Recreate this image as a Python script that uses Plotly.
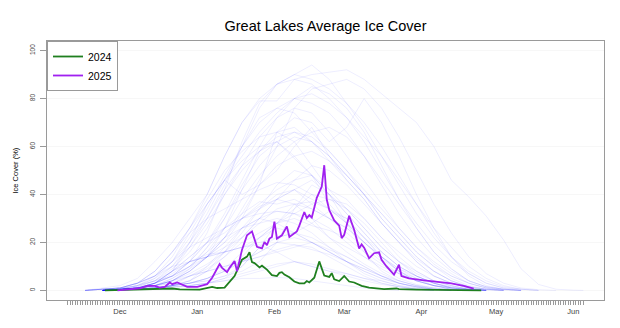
import pandas as pd
import plotly.graph_objects as go

# ---------------- data ----------------
SEASON_START = "2024-11-10"   # day 0 of the season axis
SEASON_END_DAY = 207          # last day shown (about Jun 5)

# 2024 season (winter 2023-24): day of season, ice cover %
days_2024 = [15, 21, 33, 42, 45, 53, 58, 60, 63, 65, 67, 70, 72, 73, 74, 75, 77, 78, 80, 82,
             84, 85, 86, 87, 89, 91, 93, 95, 96, 97, 99, 101, 103, 105, 106, 107, 109, 111,
             113, 115, 118, 121, 127, 132, 133, 140, 158, 166]
ice_2024 = [0, 0.2, 0.4, 0.8, 0.4, 0.3, 1.5, 1.0, 1.2, 3.7, 6.0, 12.8, 14.1, 15.9, 11.8, 11.4,
            9.6, 10.3, 8.7, 6.4, 6.0, 7.3, 7.6, 6.6, 5.5, 3.7, 2.9, 2.9, 3.9, 3.3, 5.3, 12.1,
            6.2, 5.6, 7.2, 4.6, 3.9, 6.0, 3.7, 3.3, 1.9, 1.2, 0.5, 0.8, 0.5, 0.3, 0.1, 0]

# 2025 season (winter 2024-25)
days_2025 = [20, 26, 29, 32, 35, 37, 39, 41, 42, 44, 46, 48, 52, 54, 56, 58, 59, 61, 62, 64,
             65, 67, 68, 70, 72, 74, 76, 78, 79, 80, 81, 82, 83, 84, 86, 88, 89, 92, 93, 95,
             96, 97, 98, 100, 102, 103, 104, 105, 107, 109, 110, 111, 113, 115, 117, 118, 119,
             121, 123, 125, 126, 128, 131, 133, 134, 137, 143, 148, 154, 159, 163]
ice_2025 = [0, 0.4, 0.9, 1.9, 1.9, 1.2, 1.5, 3.3, 2.6, 3.3, 2.3, 1.5, 1.5, 1.9, 2.6, 5.3, 7.0,
            11.0, 9.4, 7.6, 9.4, 12.3, 8.0, 17.0, 23.0, 24.6, 18.2, 17.5, 20.2, 18.9, 21.6, 22.3,
            28.7, 21.6, 23.0, 26.7, 22.3, 24.6, 27.0, 32.7, 30.2, 31.4, 30.4, 38.6, 43.3, 52.2,
            37.9, 33.5, 29.2, 27.0, 21.8, 23.2, 31.1, 25.3, 17.5, 19.2, 17.8, 13.4, 15.5, 15.9,
            12.8, 10.0, 6.6, 10.7, 6.0, 5.0, 4.2, 3.7, 2.9, 1.9, 0.7]

# historical seasons, weekly readings (Nov 10 ... Jun 1, then Jun 5)
hist_days = [0, 7, 14, 21, 28, 35, 42, 49, 56, 63, 70, 77, 84, 91, 98, 105, 112, 119, 126,
             133, 140, 147, 154, 161, 168, 175, 182, 189, 196, 203, 207]
hist_years = list(range(1973, 2024))
hist_ice = [
    [0,0,0,0.5,1,3,8,14,20,24,30,35,38,36,30,22,18,14,10,7,4,2,1,0.5,0,0,0,0,0,0,0],
    [0,0,0.5,1,2,4,6,10,18,26,32,37,36,38,34,30,26,20,14,9,6,3,1.5,0.5,0,0,0,0,0,0,0],
    [0,0,0,0.5,1,2,3,6,9,14,20,24,28,30,27,25,22,16,11,7,4,2,1,0.3,0,0,0,0,0,0,0],
    [0,0,0.5,1,3,6,12,20,30,42,52,58,62,55,48,36,28,20,13,8,5,3,1.5,0.5,0,0,0,0,0,0,0],
    [0,0,1,2,5,12,20,30,40,56,70,79,79,88,86,80,72,62,50,38,28,19,12,7,3,1,0.5,0,0,0,0],
    [0,0,0.5,1,3,6,12,22,34,48,60,70,76,80,78,74,66,56,44,32,22,14,8,4,1.5,0.5,0,0,0,0,0],
    [0,0,0,0.5,1,3,8,18,30,44,60,76,86,90,94,88,78,68,56,44,32,22,14,8,4,1.5,0.5,0,0,0,0],
    [0,0,0,0.5,1,2,4,8,14,22,30,36,42,46,48,40,34,26,18,12,7,4,2,0.5,0,0,0,0,0,0,0],
    [0,0,0.5,1,3,8,16,26,38,50,58,64,66,62,52,42,34,26,18,12,8,4,2,0.5,0,0,0,0,0,0,0],
    [0,0,0,0.5,1,2,4,9,18,30,44,56,62,66,64,58,50,42,34,26,18,12,7,3,1,0.3,0,0,0,0,0],
    [0,0,0,0.3,0.5,1,2,3,5,8,12,16,20,19,17,15,12,9,6,4,2,1,0.3,0,0,0,0,0,0,0,0],
    [0,0,0,0.5,2,5,12,24,36,46,54,60,62,56,48,42,38,30,22,16,10,6,3,1,0.3,0,0,0,0,0,0],
    [0,0,0,0.5,1.5,4,9,16,26,40,52,64,72,76,74,66,56,46,36,26,18,11,6,3,1,0.3,0,0,0,0,0],
    [0,0,0,0.5,1,3,6,12,20,30,42,52,60,64,62,56,48,40,32,24,16,10,6,3,1,0,0,0,0,0,0],
    [0,0,0,0.3,0.5,1,2,3,5,8,12,16,20,22,20,16,12,8,5,3,1.5,0.5,0,0,0,0,0,0,0,0,0],
    [0,0,0,0.5,1,2,3,6,10,16,24,34,44,50,48,40,32,24,16,10,6,3,1,0.3,0,0,0,0,0,0,0],
    [0,0,0.5,1,2,4,8,12,14,16,18,22,28,34,40,38,36,30,22,14,8,4,2,0.5,0,0,0,0,0,0,0],
    [0,0,0.5,1,3,6,12,18,22,26,30,34,38,42,46,40,32,24,16,10,6,3,1,0.3,0,0,0,0,0,0,0],
    [0,0,0,0.5,1,2,4,8,14,20,26,30,33,32,28,22,16,11,7,4,2,1,0.3,0,0,0,0,0,0,0,0],
    [0,0,0,0.3,1,2,4,7,11,16,22,28,34,36,34,30,26,20,14,9,5,2,1,0.3,0,0,0,0,0,0,0],
    [0,0,0,0.5,1,3,6,10,16,26,38,48,56,62,66,68,64,56,46,36,26,16,9,4,1.5,0.5,0,0,0,0,0],
    [0,0,0,0.5,1,3,6,12,24,42,62,78,86,90,88,84,78,70,60,48,36,24,14,7,3,1,0,0,0,0,0],
    [0,0,0,0.3,0.5,1,2,4,8,14,22,30,38,42,36,30,24,18,12,7,4,2,0.5,0,0,0,0,0,0,0,0],
    [0,0,0.5,1,3,8,16,26,36,46,56,66,74,80,82,78,72,64,56,46,36,26,18,10,5,2,0.5,0,0,0,0],
    [0,0,0,0.5,2,5,10,18,28,40,50,58,64,66,62,56,48,40,32,24,16,10,5,2,0.5,0,0,0,0,0,0],
    [0,0,0,0.3,0.5,1,1.5,2,3,5,7,9,11,12,10,8,6,4,2.5,1.5,0.5,0,0,0,0,0,0,0,0,0,0],
    [0,0,0,0.3,0.5,1,2,4,10,18,26,30,28,24,20,16,12,9,6,3,1.5,0.5,0,0,0,0,0,0,0,0,0],
    [0,0,0,0.3,0.5,1,2,3,5,9,16,22,26,24,20,17,14,10,6,3,1.5,0.5,0,0,0,0,0,0,0,0,0],
    [0,0,0.5,1,3,8,16,24,30,34,38,42,45,44,40,34,28,22,16,10,6,3,1,0.3,0,0,0,0,0,0,0],
    [0,0,0,0.3,0.5,1,1.5,2,3,4,6,8,10,12,11,9,7,5,3,1.5,0.5,0,0,0,0,0,0,0,0,0,0],
    [0,0,0,0.5,1,3,6,12,20,32,46,60,72,80,85,82,76,66,52,38,26,16,9,4,1.5,0.5,0,0,0,0,0],
    [0,0,0,0.3,1,2,4,8,14,26,42,58,66,68,62,54,46,38,28,20,13,8,4,1.5,0.5,0,0,0,0,0,0],
    [0,0,0,0.3,1,2,5,9,14,22,32,44,52,56,58,54,48,40,30,22,14,8,4,1.5,0.5,0,0,0,0,0,0],
    [0,0,0,0.5,1,3,7,12,15,16,18,20,22,24,22,18,14,10,6,3,1.5,0.5,0,0,0,0,0,0,0,0,0],
    [0,0,0,0.3,0.5,1,2,3,4,6,10,18,28,36,37,34,28,20,14,8,4,2,0.5,0,0,0,0,0,0,0,0],
    [0,0,0,0.3,1,3,6,10,14,18,22,30,38,46,52,50,44,36,28,20,12,6,3,1,0,0,0,0,0,0,0],
    [0,0,0,0.5,1.5,4,10,20,32,46,60,72,76,74,66,58,50,40,30,22,14,8,4,1.5,0.5,0,0,0,0,0,0],
    [0,0,0,0.3,1,2,5,10,16,22,26,28,30,28,24,18,12,7,4,2,0.5,0,0,0,0,0,0,0,0,0,0],
    [0,0,0,0.5,1,3,8,14,20,26,30,32,33,32,30,26,20,14,9,5,2.5,1,0.3,0,0,0,0,0,0,0,0],
    [0,0,0,0.3,0.5,1,1.5,2,3,4,5,5,5.4,5,4,3,2,1,0.5,0,0,0,0,0,0,0,0,0,0,0,0],
    [0,0,0,0.3,0.5,1,2,3,5,8,14,22,28,32,36,38,34,28,20,12,6,3,1,0.3,0,0,0,0,0,0,0],
    [0,0,0,0.5,2,6,14,26,40,56,70,80,86,88,90,91,92,88,82,76,70,60,46,39,31,21,9,2.5,0.5,0.1,0],
    [0,0,0,0.3,1,2,4,8,14,22,34,46,60,76,84,86,88,84,76,64,50,36,24,14,7,3,1,0.3,0,0,0],
    [0,0,0,0,0.3,0.5,1,2,3,5,10,18,22,24,28,33,30,22,14,8,4,2,0.5,0,0,0,0,0,0,0,0],
    [0,0,0,0.3,1,3,8,12,14,16,18,19,16,12,10,8,7,5,4,2,1,0.3,0,0,0,0,0,0,0,0,0],
    [0,0,0,0.5,1,3,8,20,36,46,40,44,50,60,68,56,46,38,28,20,12,6,3,1,0.3,0,0,0,0,0,0],
    [0,0,0.5,1,3,6,10,12,14,20,30,44,66,72,70,62,68,80,70,56,40,26,14,6,2,0.5,0,0,0,0,0],
    [0,0,0,0.3,1,2,4,6,8,10,12,14,17,19,18,14,10,6,3,1.5,0.5,0,0,0,0,0,0,0,0,0,0],
    [0,0,0,0.3,0.5,1,2,3,4,6,8,12,20,34,44,40,28,16,8,4,2,0.5,0,0,0,0,0,0,0,0,0],
    [0,0,0,0.3,0.5,1,2,4,8,16,26,34,40,42,38,34,30,22,14,8,4,2,0.5,0,0,0,0,0,0,0,0],
    [0,0,0,0.3,0.5,1,2,6,8,10,12,14,16,18,20,16,12,8,5,3,1,0.3,0,0,0,0,0,0,0,0,0],
]

y_ticks = [0, 20, 40, 60, 80, 100]

# ---------------- helpers ----------------
origin = pd.Timestamp(SEASON_START)


def to_dates(days):
    return [(origin + pd.Timedelta(days=d)).strftime("%Y-%m-%d") for d in days]


def trim_zero_tails(days, vals):
    """Keep a season's record from its last open-water day before ice to its first after."""
    nz = [i for i, v in enumerate(vals) if v > 0]
    lo = max(nz[0] - 1, 0)
    hi = min(nz[-1] + 1, len(vals) - 1)
    return days[lo:hi + 1], vals[lo:hi + 1]


PAD_DAYS = SEASON_END_DAY * 0.04
x_range = [(origin - pd.Timedelta(days=PAD_DAYS)).isoformat(),
           (origin + pd.Timedelta(days=SEASON_END_DAY + PAD_DAYS)).isoformat()]
month_ticks = pd.date_range(origin + pd.Timedelta(days=21), origin + pd.Timedelta(days=SEASON_END_DAY), freq="MS")
day_ticks = pd.date_range(origin, origin + pd.Timedelta(days=SEASON_END_DAY), freq="D")

FONT = "Liberation Sans, Arial, Helvetica, sans-serif"
AXIS_GREY = "#9a9a9a"

fig = go.Figure()

for yr, vals in zip(hist_years, hist_ice):
    d, v = trim_zero_tails(hist_days, vals)
    fig.add_trace(go.Scatter(
        x=to_dates(d), y=v, mode="lines", name=str(yr), showlegend=False,
        line=dict(color="rgba(0,0,255,0.07)", width=1), hoverinfo="skip"))

fig.add_trace(go.Scatter(x=to_dates(days_2024), y=ice_2024, mode="lines", name="2024",
                         line=dict(color="#1f7f1f", width=1.8)))
fig.add_trace(go.Scatter(x=to_dates(days_2025), y=ice_2025, mode="lines", name="2025",
                         line=dict(color="#A020F0", width=1.8)))

fig.update_layout(
    width=620, height=328,
    margin=dict(l=47, r=16, t=41, b=21),
    paper_bgcolor="white", plot_bgcolor="white",
    font=dict(family=FONT, color="#444444"),
    title=dict(text="Great Lakes Average Ice Cover", x=0.5, xref="paper",
               y=1 - 26 / 328, yref="container", yanchor="middle", xanchor="center",
               font=dict(size=14.5, color="black", family=FONT)),
    showlegend=True,
    legend=dict(x=0, y=1, xanchor="left", yanchor="top", bgcolor="white",
                bordercolor=AXIS_GREY, borderwidth=1,
                font=dict(size=10.5, color="black", family=FONT),
                itemwidth=30, tracegroupgap=0),
)

fig.update_xaxes(
    type="date", range=x_range,
    tickmode="array", tickvals=[d.isoformat() for d in month_ticks],
    ticktext=[d.strftime("%b") for d in month_ticks],
    ticks="outside", ticklen=4, tickwidth=1, tickcolor=AXIS_GREY,
    minor=dict(tickmode="array", tickvals=[d.isoformat() for d in day_ticks],
               ticks="outside", ticklen=4, tickwidth=1, tickcolor=AXIS_GREY, showgrid=False),
    showline=True, linecolor=AXIS_GREY, linewidth=1, mirror=True,
    showgrid=False, zeroline=False,
    tickfont=dict(size=7.5, color="#444444", family=FONT),
)
fig.update_yaxes(
    range=[-4, 104], tickmode="array", tickvals=y_ticks,
    ticks="outside", ticklen=6, tickwidth=1, tickcolor=AXIS_GREY,
    tickangle=-90, tickfont=dict(size=6.5, color="#444444", family=FONT),
    ticklabelstandoff=2,
    showline=True, linecolor=AXIS_GREY, linewidth=1, mirror=True,
    showgrid=True, gridcolor="#f7f7f7", gridwidth=1, zeroline=False,
)

fig.add_annotation(text="Ice Cover (%)", xref="paper", yref="paper", x=0, y=0.5,
                   xshift=-32, textangle=-90, showarrow=False, xanchor="center", yanchor="middle",
                   font=dict(size=7.5, color="black", family=FONT))

fig.write_html("out.html")
